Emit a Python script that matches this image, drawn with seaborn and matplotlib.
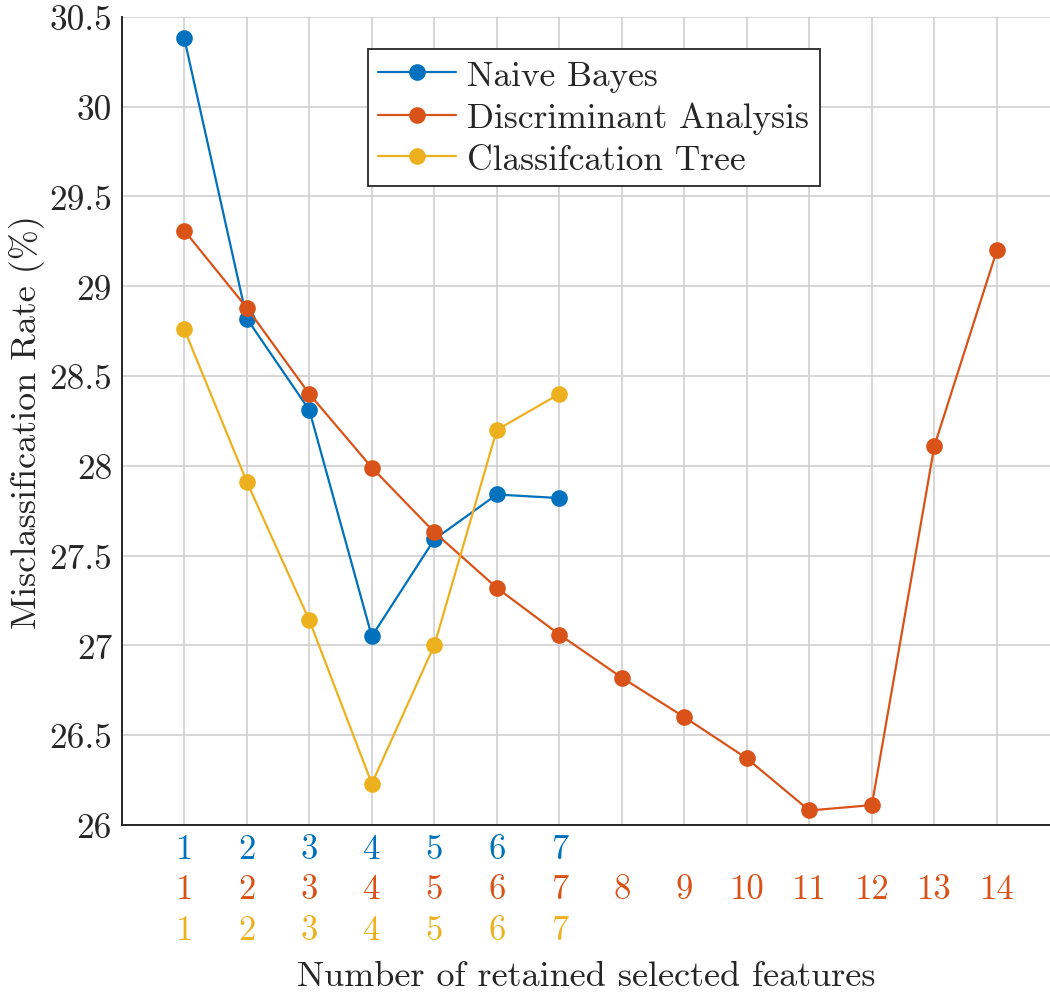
import matplotlib
matplotlib.use("Agg")
import matplotlib.pyplot as plt
import matplotlib.transforms as mtransforms
import seaborn as sns
import pandas as pd
import numpy as np

# values
nb_x = [1, 2, 3, 4, 5, 6, 7]
nb_y = [30.38, 28.82, 28.31, 27.05, 27.59, 27.84, 27.82]
da_x = [1, 2, 3, 4, 5, 6, 7, 8, 9, 10, 11, 12, 13, 14]
da_y = [29.31, 28.88, 28.40, 27.99, 27.63, 27.32, 27.06, 26.82, 26.60, 26.37, 26.08, 26.11, 28.11, 29.20]
ct_x = [1, 2, 3, 4, 5, 6, 7]
ct_y = [28.76, 27.91, 27.14, 26.23, 27.00, 28.20, 28.40]
names = ["Naive Bayes", "Discriminant Analysis", "Classifcation Tree"]
colors = ["#0072BD", "#D95319", "#EDB120"]
yticks = [26, 26.5, 27, 27.5, 28, 28.5, 29, 29.5, 30, 30.5]

df = pd.concat([
    pd.DataFrame({"n": nb_x, "rate": nb_y, "model": names[0]}),
    pd.DataFrame({"n": da_x, "rate": da_y, "model": names[1]}),
    pd.DataFrame({"n": ct_x, "rate": ct_y, "model": names[2]}),
])

sns.set_style("white")
plt.rcParams['font.family'] = ['cmr10', 'DejaVu Serif']
plt.rcParams['axes.formatter.use_mathtext'] = True
plt.rcParams['mathtext.fontset'] = 'cm'

fig = plt.figure(figsize=(10.5, 9.95), dpi=100)
ax = fig.add_axes([0.116, 0.170, 0.884, 0.812])

sns.lineplot(data=df, x="n", y="rate", hue="model", palette=colors,
             marker="o", markersize=12, markeredgewidth=0, linewidth=1.6,
             ax=ax, legend=False)

ax.set_xlim(0, 14.85)
ax.set_ylim(26, 30.5)
ax.set_xticks(da_x)
ax.set_xticklabels([])
ax.set_yticks(yticks)
ax.set_yticklabels(["{:g}".format(v) for v in yticks], fontsize=25.5)
ax.grid(True, color="#d0d0d0", linewidth=1.2)
ax.tick_params(axis="both", direction="in", length=9, width=1.3, color="#262626", pad=7)
for s in ["top", "right"]:
    ax.spines[s].set_visible(False)
for s in ["left", "bottom"]:
    ax.spines[s].set_color("#262626")
    ax.spines[s].set_linewidth(1.4)

# three rows of coloured tick labels
trans = mtransforms.blended_transform_factory(ax.transData, ax.transAxes)
rows = [(nb_x, colors[0], -0.03), (da_x, colors[1], -0.08), (ct_x, colors[2], -0.13)]
for xs, c, yy in rows:
    for v in xs:
        ax.text(v, yy, str(v), color=c, fontsize=25, ha="center", va="center",
                transform=trans)

ax.set_xlabel("Number of retained selected features", fontsize=26, color="#262626")
ax.xaxis.set_label_coords(0.5, -0.168)
ax.set_ylabel("Misclassification Rate (%)", fontsize=26, color="#262626")
ax.yaxis.set_label_coords(-0.083, 0.5)

handles = [plt.Line2D([], [], color=c, marker="o", markersize=12, markeredgewidth=0,
                      linewidth=1.6) for c in colors]
leg = ax.legend(handles, names, loc="upper left", bbox_to_anchor=(0.265, 0.96),
                fontsize=25.5, frameon=True, fancybox=False, framealpha=1,
                edgecolor="#262626", borderpad=0.3, labelspacing=0.28,
                handlelength=2.2, handletextpad=0.3, borderaxespad=0)
leg.get_frame().set_linewidth(1.3)

fig.savefig("out.png", dpi=100)
